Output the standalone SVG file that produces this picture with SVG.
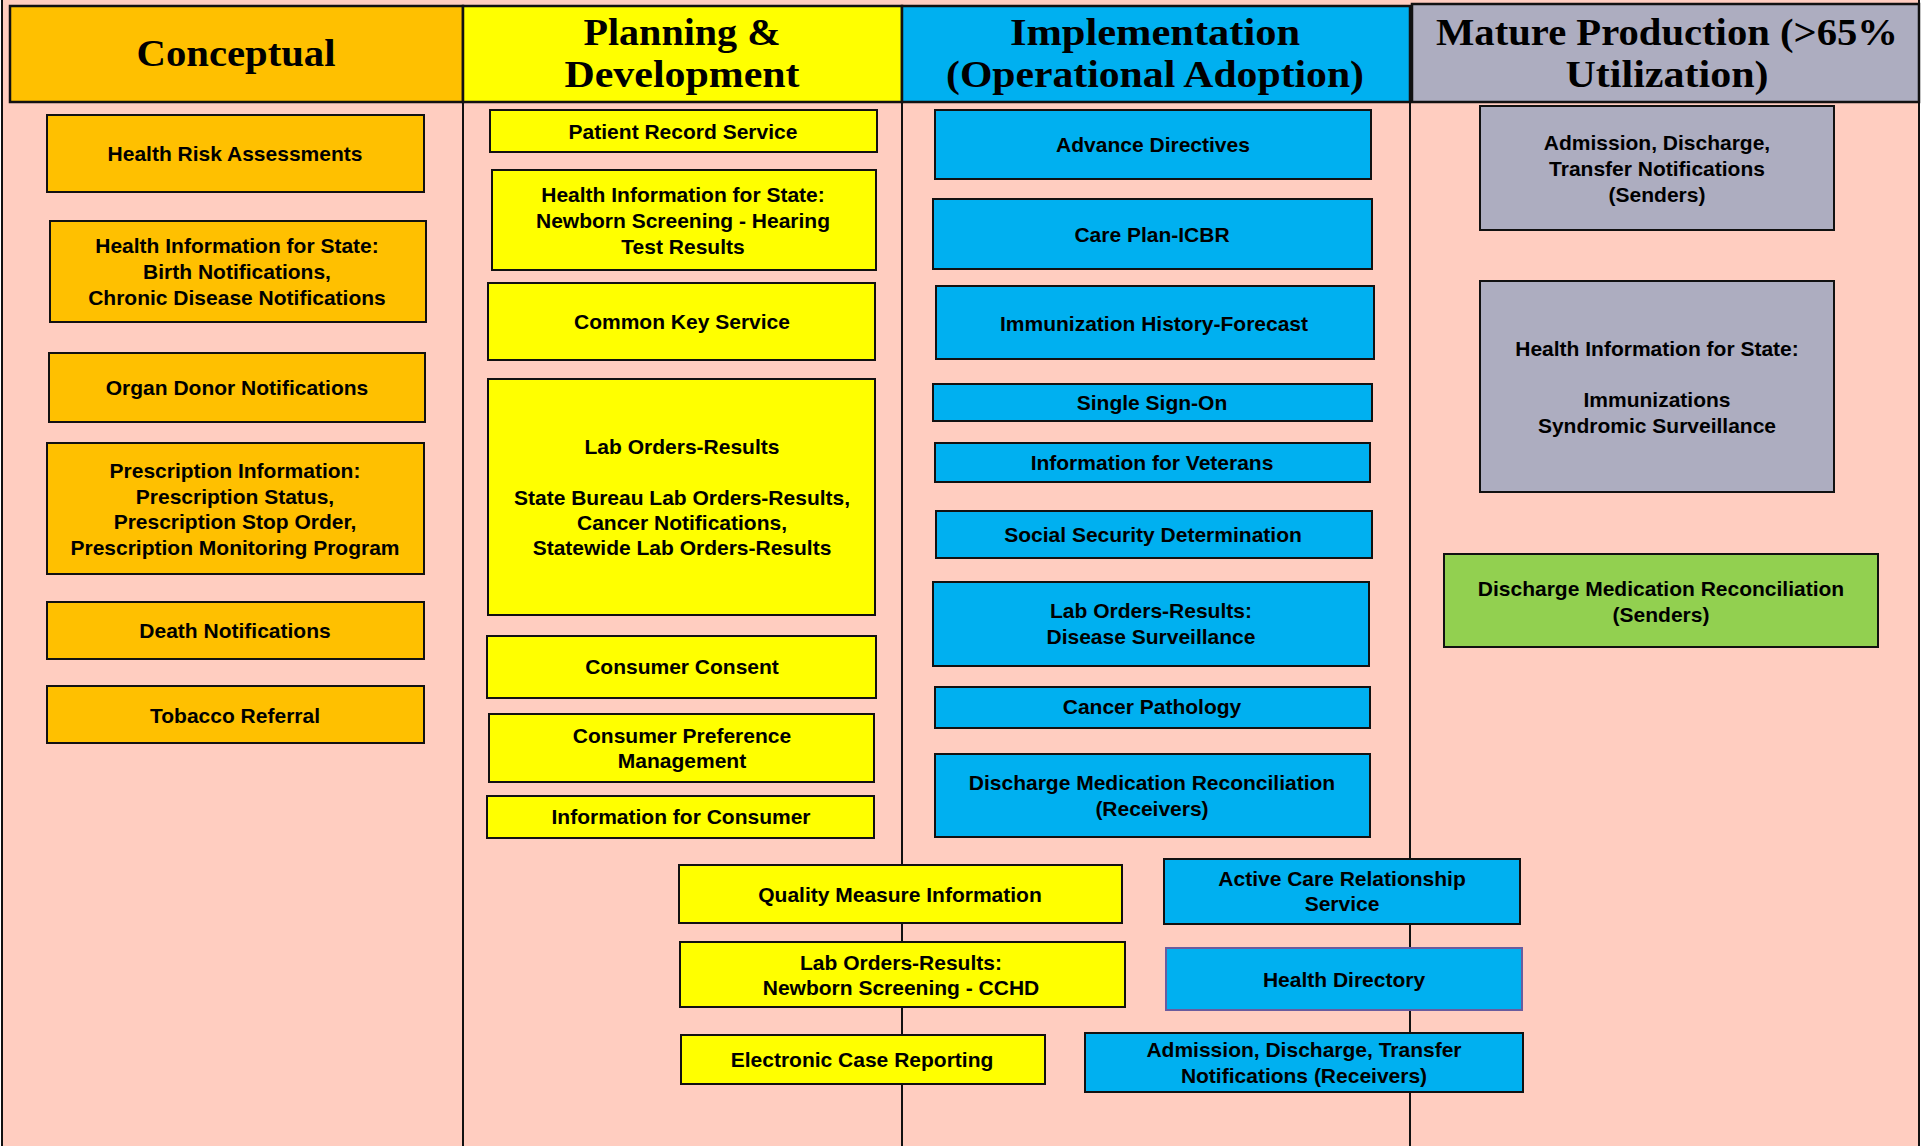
<svg xmlns="http://www.w3.org/2000/svg" width="1927" height="1146" viewBox="0 0 1927 1146">
  <style>
    .bg { fill: #FFCDC0; }
    .box { stroke: #111; stroke-width: 2; }
    .hdr { stroke: #111; stroke-width: 2.5; }
    .org { fill: #FFC000; }
    .yel { fill: #FFFF00; }
    .blu { fill: #00B0F0; }
    .gry { fill: #ADADC0; }
    .grn { fill: #92D050; }
    .lane { stroke: #111; stroke-width: 2; }
    .ht { font-family: "Liberation Serif", "Times New Roman", serif; font-weight: bold; font-size: 38px; text-anchor: middle; fill: #000; }
    .t { font-family: "Liberation Sans", Arial, sans-serif; font-weight: bold; font-size: 21px; text-anchor: middle; fill: #000; }
  </style>

  <!-- page background -->
  <rect x="0" y="0" width="1927" height="1146" fill="#FFFFFF"/>
  <rect class="bg" x="2" y="0" width="1916" height="1146"/>

  <!-- outer frame and lane dividers -->
  <g id="lanes">
    <line class="lane" x1="2" y1="0" x2="2" y2="1146"/>
    <line class="lane" x1="1919" y1="0" x2="1919" y2="1146"/>
    <line class="lane" x1="463" y1="102" x2="463" y2="1146"/>
    <line class="lane" x1="902" y1="102" x2="902" y2="1146"/>
    <line class="lane" x1="1410" y1="102" x2="1410" y2="1146"/>
  </g>

  <!-- column headers -->
  <g id="hdr-conceptual">
    <rect class="hdr org" x="10" y="6" width="453" height="96"/>
    <text class="ht" x="236" y="66" textLength="199" lengthAdjust="spacingAndGlyphs">Conceptual</text>
  </g>
  <g id="hdr-planning">
    <rect class="hdr yel" x="463" y="6" width="439" height="96"/>
    <text class="ht" x="682" y="45" textLength="197" lengthAdjust="spacingAndGlyphs">Planning &amp;</text>
    <text class="ht" x="682" y="87" textLength="235" lengthAdjust="spacingAndGlyphs">Development</text>
  </g>
  <g id="hdr-implementation">
    <rect class="hdr blu" x="902" y="6" width="508" height="96"/>
    <text class="ht" x="1155" y="45" textLength="290" lengthAdjust="spacingAndGlyphs">Implementation</text>
    <text class="ht" x="1155" y="87" textLength="418" lengthAdjust="spacingAndGlyphs">(Operational Adoption)</text>
  </g>
  <g id="hdr-mature">
    <rect class="hdr gry" x="1412" y="4" width="507" height="98"/>
    <text class="ht" x="1667" y="45" textLength="462" lengthAdjust="spacingAndGlyphs">Mature Production (&gt;65%</text>
    <text class="ht" x="1667" y="87" textLength="203" lengthAdjust="spacingAndGlyphs">Utilization)</text>
  </g>

  <!-- Conceptual -->
  <g id="c-health-risk">
    <rect class="box org" x="47" y="115" width="377" height="77"/>
    <text class="t" x="235" y="161">Health Risk Assessments</text>
  </g>
  <g id="c-his-birth">
    <rect class="box org" x="50" y="221" width="376" height="101"/>
    <text class="t" x="237" y="253">Health Information for State:</text>
    <text class="t" x="237" y="279">Birth Notifications,</text>
    <text class="t" x="237" y="305">Chronic Disease Notifications</text>
  </g>
  <g id="c-organ-donor">
    <rect class="box org" x="49" y="353" width="376" height="69"/>
    <text class="t" x="237" y="395">Organ Donor Notifications</text>
  </g>
  <g id="c-prescription">
    <rect class="box org" x="47" y="443" width="377" height="131"/>
    <text class="t" x="235" y="478">Prescription Information:</text>
    <text class="t" x="235" y="504">Prescription Status,</text>
    <text class="t" x="235" y="529">Prescription Stop Order,</text>
    <text class="t" x="235" y="555">Prescription Monitoring Program</text>
  </g>
  <g id="c-death">
    <rect class="box org" x="47" y="602" width="377" height="57"/>
    <text class="t" x="235" y="638">Death Notifications</text>
  </g>
  <g id="c-tobacco">
    <rect class="box org" x="47" y="686" width="377" height="57"/>
    <text class="t" x="235" y="723">Tobacco Referral</text>
  </g>

  <!-- Planning & Development -->
  <g id="p-patient-record">
    <rect class="box yel" x="490" y="110" width="387" height="42"/>
    <text class="t" x="683" y="139">Patient Record Service</text>
  </g>
  <g id="p-his-newborn">
    <rect class="box yel" x="492" y="170" width="384" height="100"/>
    <text class="t" x="683" y="202">Health Information for State:</text>
    <text class="t" x="683" y="228">Newborn Screening - Hearing</text>
    <text class="t" x="683" y="254">Test Results</text>
  </g>
  <g id="p-common-key">
    <rect class="box yel" x="488" y="283" width="387" height="77"/>
    <text class="t" x="682" y="329">Common Key Service</text>
  </g>
  <g id="p-lab-orders">
    <rect class="box yel" x="488" y="379" width="387" height="236"/>
    <text class="t" x="682" y="454">Lab Orders-Results</text>
    <text class="t" x="682" y="505">State Bureau Lab Orders-Results,</text>
    <text class="t" x="682" y="530">Cancer Notifications,</text>
    <text class="t" x="682" y="555">Statewide Lab Orders-Results</text>
  </g>
  <g id="p-consumer-consent">
    <rect class="box yel" x="487" y="636" width="389" height="62"/>
    <text class="t" x="682" y="674">Consumer Consent</text>
  </g>
  <g id="p-consumer-pref">
    <rect class="box yel" x="489" y="714" width="385" height="68"/>
    <text class="t" x="682" y="743">Consumer Preference</text>
    <text class="t" x="682" y="768">Management</text>
  </g>
  <g id="p-info-consumer">
    <rect class="box yel" x="487" y="796" width="387" height="42"/>
    <text class="t" x="681" y="824">Information for Consumer</text>
  </g>
  <g id="p-quality">
    <rect class="box yel" x="679" y="865" width="443" height="58"/>
    <text class="t" x="900" y="902">Quality Measure Information</text>
  </g>
  <g id="p-lab-cchd">
    <rect class="box yel" x="680" y="942" width="445" height="65"/>
    <text class="t" x="901" y="970">Lab Orders-Results:</text>
    <text class="t" x="901" y="995">Newborn Screening - CCHD</text>
  </g>
  <g id="p-ecr">
    <rect class="box yel" x="681" y="1035" width="364" height="49"/>
    <text class="t" x="862" y="1067">Electronic Case Reporting</text>
  </g>

  <!-- Implementation -->
  <g id="i-advance-directives">
    <rect class="box blu" x="935" y="110" width="436" height="69"/>
    <text class="t" x="1153" y="152">Advance Directives</text>
  </g>
  <g id="i-care-plan">
    <rect class="box blu" x="933" y="199" width="439" height="70"/>
    <text class="t" x="1152" y="242">Care Plan-ICBR</text>
  </g>
  <g id="i-immunization">
    <rect class="box blu" x="936" y="286" width="438" height="73"/>
    <text class="t" x="1154" y="331">Immunization History-Forecast</text>
  </g>
  <g id="i-sso">
    <rect class="box blu" x="933" y="384" width="439" height="37"/>
    <text class="t" x="1152" y="410">Single Sign-On</text>
  </g>
  <g id="i-veterans">
    <rect class="box blu" x="935" y="443" width="435" height="39"/>
    <text class="t" x="1152" y="470">Information for Veterans</text>
  </g>
  <g id="i-ssd">
    <rect class="box blu" x="936" y="511" width="436" height="47"/>
    <text class="t" x="1153" y="542">Social Security Determination</text>
  </g>
  <g id="i-disease-surv">
    <rect class="box blu" x="933" y="582" width="436" height="84"/>
    <text class="t" x="1151" y="618">Lab Orders-Results:</text>
    <text class="t" x="1151" y="644">Disease Surveillance</text>
  </g>
  <g id="i-cancer-path">
    <rect class="box blu" x="935" y="687" width="435" height="41"/>
    <text class="t" x="1152" y="714">Cancer Pathology</text>
  </g>
  <g id="i-dmr-receivers">
    <rect class="box blu" x="935" y="754" width="435" height="83"/>
    <text class="t" x="1152" y="790">Discharge Medication Reconciliation</text>
    <text class="t" x="1152" y="816">(Receivers)</text>
  </g>
  <g id="i-active-care">
    <rect class="box blu" x="1164" y="859" width="356" height="65"/>
    <text class="t" x="1342" y="886">Active Care Relationship</text>
    <text class="t" x="1342" y="911">Service</text>
  </g>
  <g id="i-health-directory">
    <rect class="blu" x="1166" y="948" width="356" height="62" stroke="#6A5C9E" stroke-width="2"/>
    <text class="t" x="1344" y="987">Health Directory</text>
  </g>
  <g id="i-adt-receivers">
    <rect class="box blu" x="1085" y="1033" width="438" height="59"/>
    <text class="t" x="1304" y="1057">Admission, Discharge, Transfer</text>
    <text class="t" x="1304" y="1083">Notifications (Receivers)</text>
  </g>

  <!-- Mature Production -->
  <g id="m-adt-senders">
    <rect class="box gry" x="1480" y="106" width="354" height="124"/>
    <text class="t" x="1657" y="150">Admission, Discharge,</text>
    <text class="t" x="1657" y="176">Transfer Notifications</text>
    <text class="t" x="1657" y="202">(Senders)</text>
  </g>
  <g id="m-his-immunizations">
    <rect class="box gry" x="1480" y="281" width="354" height="211"/>
    <text class="t" x="1657" y="356">Health Information for State:</text>
    <text class="t" x="1657" y="407">Immunizations</text>
    <text class="t" x="1657" y="433">Syndromic Surveillance</text>
  </g>
  <g id="m-dmr-senders">
    <rect class="box grn" x="1444" y="554" width="434" height="93"/>
    <text class="t" x="1661" y="596">Discharge Medication Reconciliation</text>
    <text class="t" x="1661" y="622">(Senders)</text>
  </g>
</svg>
